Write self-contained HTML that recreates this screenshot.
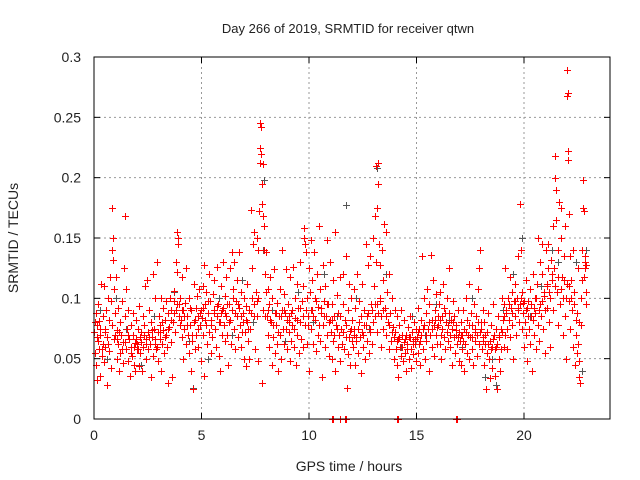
<!DOCTYPE html>
<html><head><meta charset="utf-8"><style>
body{margin:0;background:#fff}
svg{display:block;font-family:"Liberation Sans",sans-serif}
</style></head><body>
<svg id="chart" width="640" height="480">
<rect width="640" height="480" fill="#fff"/>
<text x="348" y="33" text-anchor="middle" font-size="13" fill="#222">Day 266 of 2019, SRMTID for receiver qtwn</text>
<text x="349" y="471" text-anchor="middle" font-size="14" fill="#222">GPS time / hours</text>
<text transform="translate(18,238) rotate(-90)" text-anchor="middle" font-size="14" fill="#222">SRMTID / TECUs</text>
<g id="grid"></g><g id="ticks"></g><g id="gray"></g><g id="red"></g>
<rect x="94" y="57" width="516" height="362" fill="none" stroke="#000" stroke-width="1"/>
</svg>
<script>
const xTicks=[0,5,10,15,20];
const yTicks=[0,0.05,0.1,0.15,0.2,0.25,0.3];
const yTickLabels=["0","0.05","0.1","0.15","0.2","0.25","0.3"];
const redPoints=[[0.02,.072],[0.05,.055],[0.07,.088],[0.1,.045],[0.12,.078],[0.15,.032],[0.18,.065],[0.2,.095],[0.22,.058],[0.25,.081],[0.28,.036],[0.3,.07],[0.33,.112],[0.36,.052],[0.4,.062],[0.42,.085],[0.45,.11],[0.48,.047],[0.5,.075],[0.53,.06],[0.56,.09],[0.6,.028],[0.62,.068],[0.65,.1],[0.7,.056],[0.72,.082],[0.75,.118],[0.78,.042],[0.8,.098],[0.84,.175],[0.86,.14],[0.88,.15],[0.9,.132],[0.92,.108],[0.95,.066],[0.98,.088],
[1.02,.118],[1.05,.074],[1.08,.05],[1.1,.092],[1.13,.062],[1.16,.04],[1.2,.08],[1.23,.055],[1.26,.07],[1.3,.098],[1.33,.046],[1.36,.064],[1.4,.125],[1.43,.085],[1.45,.168],[1.48,.108],[1.5,.058],[1.53,.075],[1.56,.048],[1.6,.09],[1.63,.066],[1.66,.036],[1.7,.078],[1.73,.06],[1.76,.052],[1.8,.088],[1.83,.07],[1.86,.045],[1.9,.063],[1.93,.04],[1.96,.082],[1.98,.058],
[2.02,.062],[2.05,.075],[2.08,.044],[2.1,.094],[2.13,.068],[2.16,.055],[2.2,.072],[2.23,.04],[2.26,.085],[2.3,.06],[2.33,.078],[2.36,.11],[2.4,.066],[2.43,.05],[2.46,.115],[2.5,.072],[2.53,.058],[2.56,.09],[2.6,.062],[2.63,.035],[2.66,.08],[2.7,.068],[2.73,.052],[2.76,.12],[2.8,.075],[2.83,.062],[2.86,.1],[2.9,.058],[2.93,.13],[2.96,.072],[2.98,.048],
[3.02,.085],[3.05,.066],[3.08,.078],[3.1,.04],[3.13,.1],[3.16,.062],[3.2,.092],[3.23,.074],[3.26,.055],[3.3,.082],[3.33,.07],[3.36,.098],[3.4,.06],[3.43,.03],[3.46,.088],[3.5,.076],[3.53,.1],[3.56,.064],[3.6,.09],[3.63,.035],[3.66,.08],[3.7,.098],[3.73,.106],[3.76,.072],[3.8,.13],[3.83,.09],[3.86,.122],[3.88,.155],[3.9,.15],[3.92,.145],[3.95,.095],[3.98,.078],
[4.02,.1],[4.05,.082],[4.08,.068],[4.1,.118],[4.13,.09],[4.16,.05],[4.2,.075],[4.23,.096],[4.26,.125],[4.3,.062],[4.33,.085],[4.36,.07],[4.4,.1],[4.43,.055],[4.46,.078],[4.5,.04],[4.53,.09],[4.56,.065],[4.6,.025],[4.63,.112],[4.66,.08],[4.7,.058],[4.73,.092],[4.76,.07],[4.8,.102],[4.83,.085],[4.86,.06],[4.9,.108],[4.93,.078],[4.96,.048],[4.98,.09],
[5.02,.084],[5.05,.11],[5.08,.07],[5.1,.036],[5.13,.128],[5.16,.095],[5.2,.078],[5.23,.105],[5.26,.062],[5.3,.088],[5.33,.12],[5.36,.072],[5.4,.098],[5.43,.055],[5.46,.082],[5.5,.068],[5.53,.104],[5.56,.09],[5.6,.115],[5.63,.075],[5.66,.06],[5.7,.126],[5.73,.085],[5.76,.095],[5.8,.052],[5.83,.08],[5.86,.04],[5.9,.11],[5.93,.088],[5.96,.07],[5.98,.13],
[6.02,.092],[6.05,.078],[6.08,.065],[6.1,.102],[6.13,.085],[6.16,.118],[6.2,.07],[6.23,.045],[6.26,.095],[6.3,.08],[6.33,.125],[6.36,.062],[6.4,.138],[6.43,.09],[6.46,.108],[6.5,.075],[6.53,.13],[6.56,.058],[6.6,.098],[6.63,.085],[6.66,.115],[6.7,.068],[6.73,.138],[6.76,.092],[6.8,.078],[6.83,.06],[6.86,.105],[6.9,.072],[6.93,.088],[6.96,.05],[6.98,.1],
[7.02,.072],[7.05,.094],[7.08,.044],[7.1,.08],[7.13,.112],[7.16,.065],[7.2,.05],[7.23,.09],[7.26,.075],[7.3,.173],[7.33,.1],[7.36,.125],[7.4,.145],[7.43,.155],[7.46,.085],[7.5,.058],[7.53,.105],[7.56,.15],[7.6,.098],[7.63,.14],[7.65,.048],[7.68,.172],[7.7,.225],[7.72,.245],[7.74,.212],[7.76,.22],[7.78,.242],[7.8,.195],[7.82,.03],[7.83,.178],[7.85,.211],[7.87,.168],[7.9,.14],[7.92,.16],[7.95,.12],[7.98,.105],
[8.02,.138],[8.05,.085],[8.08,.108],[8.1,.07],[8.13,.095],[8.16,.06],[8.2,.118],[8.23,.08],[8.26,.045],[8.3,.1],[8.33,.068],[8.36,.124],[8.4,.088],[8.43,.055],[8.46,.078],[8.5,.062],[8.53,.096],[8.56,.04],[8.6,.085],[8.63,.07],[8.66,.108],[8.7,.05],[8.73,.09],[8.76,.14],[8.8,.075],[8.83,.062],[8.86,.104],[8.9,.088],[8.93,.124],[8.96,.058],[8.98,.082],
[9.02,.095],[9.05,.072],[9.08,.085],[9.1,.048],[9.13,.118],[9.16,.065],[9.2,.09],[9.23,.078],[9.26,.126],[9.3,.06],[9.33,.1],[9.36,.084],[9.4,.045],[9.43,.112],[9.46,.07],[9.5,.092],[9.53,.055],[9.56,.08],[9.6,.13],[9.63,.066],[9.66,.098],[9.7,.06],[9.73,.11],[9.76,.158],[9.78,.15],[9.8,.145],[9.83,.078],[9.86,.138],[9.9,.062],[9.93,.1],[9.96,.085],[9.98,.04],
[10.02,.125],[10.05,.105],[10.08,.075],[10.1,.148],[10.13,.09],[10.16,.115],[10.2,.062],[10.23,.138],[10.26,.1],[10.3,.082],[10.33,.056],[10.36,.12],[10.4,.093],[10.43,.07],[10.46,.16],[10.5,.108],[10.53,.065],[10.56,.088],[10.6,.035],[10.63,.128],[10.66,.078],[10.7,.098],[10.73,.06],[10.76,.11],[10.8,.085],[10.83,.148],[10.86,.07],[10.9,.095],[10.93,.052],[10.96,.13],[10.98,.082],
[11.02,.072],[11.05,.095],[11.08,.05],[11.1,.115],[11.13,.065],[11.16,.085],[11.2,.155],[11.23,.04],[11.26,.078],[11.3,.103],[11.33,.06],[11.36,.088],[11.4,.07],[11.43,.048],[11.46,.118],[11.5,.075],[11.53,.062],[11.56,.095],[11.6,.12],[11.63,.058],[11.66,.082],[11.7,.135],[11.73,.068],[11.76,.026],[11.8,.09],[11.83,.054],[11.86,.112],[11.9,.073],[11.93,.045],[11.96,.1],[11.98,.065],
[12.02,.082],[12.05,.06],[12.08,.108],[12.1,.07],[12.13,.045],[12.16,.092],[12.2,.065],[12.23,.12],[12.26,.075],[12.3,.055],[12.33,.098],[12.36,.068],[12.4,.038],[12.43,.085],[12.46,.112],[12.5,.07],[12.53,.06],[12.56,.09],[12.6,.05],[12.63,.145],[12.66,.078],[12.7,.065],[12.73,.128],[12.76,.088],[12.8,.055],[12.83,.072],[12.86,.135],[12.9,.095],[12.93,.062],[12.96,.15],[12.98,.08],
[13.02,.11],[13.05,.085],[13.08,.168],[13.1,.21],[13.12,.13],[13.14,.095],[13.16,.175],[13.18,.072],[13.2,.195],[13.22,.212],[13.25,.145],[13.28,.1],[13.3,.128],[13.33,.085],[13.36,.06],[13.4,.14],[13.43,.115],[13.46,.075],[13.5,.162],[13.53,.092],[13.56,.07],[13.6,.155],[13.63,.105],[13.66,.08],[13.7,.058],[13.73,.12],[13.76,.088],[13.8,.065],[13.85,.1],[13.9,.076],[13.95,.05],[13.98,.09],
[14.02,.072],[14.05,.058],[14.08,.085],[14.1,.045],[14.13,.066],[14.16,.035],[14.2,.078],[14.23,.06],[14.26,.052],[14.3,.09],[14.33,.07],[14.36,.048],[14.4,.064],[14.43,.082],[14.46,.055],[14.5,.07],[14.53,.04],[14.56,.062],[14.6,.076],[14.63,.05],[14.66,.068],[14.7,.085],[14.73,.058],[14.76,.042],[14.8,.072],[14.83,.065],[14.86,.054],[14.9,.08],[14.93,.062],[14.96,.048],[14.98,.075],
[15.02,.068],[15.05,.092],[15.08,.055],[15.1,.075],[15.13,.062],[15.16,.045],[15.2,.082],[15.23,.07],[15.26,.135],[15.3,.058],[15.33,.1],[15.36,.078],[15.4,.05],[15.43,.088],[15.46,.065],[15.5,.108],[15.53,.075],[15.56,.04],[15.6,.095],[15.63,.07],[15.66,.136],[15.7,.082],[15.73,.06],[15.76,.115],[15.8,.078],[15.83,.052],[15.86,.09],[15.9,.07],[15.93,.104],[15.96,.062],[15.98,.085],
[16.02,.078],[16.05,.095],[16.08,.062],[16.1,.105],[16.13,.07],[16.16,.05],[16.2,.085],[16.23,.112],[16.26,.068],[16.3,.092],[16.33,.058],[16.36,.08],[16.4,.1],[16.43,.072],[16.46,.065],[16.5,.088],[16.53,.125],[16.56,.06],[16.6,.082],[16.63,.075],[16.66,.045],[16.7,.098],[16.73,.068],[16.76,.085],[16.8,.055],[16.83,.078],[16.86,.07],[16.9,.062],[16.93,.09],[16.96,.048],[16.98,.072],
[17.02,.065],[17.05,.08],[17.08,.045],[17.1,.07],[17.13,.058],[17.16,.09],[17.2,.04],[17.23,.075],[17.26,.062],[17.3,.1],[17.33,.055],[17.36,.082],[17.4,.07],[17.43,.112],[17.46,.05],[17.5,.068],[17.53,.088],[17.56,.058],[17.6,.078],[17.63,.045],[17.66,.095],[17.7,.065],[17.73,.072],[17.76,.085],[17.8,.052],[17.83,.07],[17.86,.108],[17.9,.062],[17.93,.125],[17.96,.14],[17.98,.08],
[18.02,.075],[18.05,.058],[18.08,.09],[18.1,.068],[18.13,.045],[18.16,.08],[18.2,.062],[18.23,.025],[18.26,.072],[18.3,.055],[18.33,.088],[18.36,.05],[18.4,.034],[18.43,.065],[18.46,.078],[18.5,.042],[18.53,.06],[18.56,.095],[18.6,.07],[18.63,.036],[18.66,.058],[18.7,.075],[18.73,.025],[18.76,.062],[18.8,.085],[18.83,.05],[18.86,.068],[18.9,.04],[18.93,.058],[18.96,.1],[18.98,.072],
[19.02,.082],[19.05,.06],[19.08,.095],[19.1,.07],[19.13,.125],[19.16,.088],[19.2,.075],[19.23,.058],[19.26,.1],[19.3,.082],[19.33,.118],[19.36,.068],[19.4,.092],[19.43,.105],[19.46,.078],[19.5,.05],[19.53,.098],[19.56,.085],[19.6,.112],[19.63,.07],[19.66,.1],[19.7,.09],[19.73,.135],[19.76,.08],[19.8,.178],[19.83,.095],[19.86,.14],[19.9,.075],[19.93,.105],[19.96,.088],[19.98,.06],
[20.02,.098],[20.05,.08],[20.08,.115],[20.1,.07],[20.13,.048],[20.16,.092],[20.2,.085],[20.23,.075],[20.26,.108],[20.3,.062],[20.33,.095],[20.36,.04],[20.4,.082],[20.43,.12],[20.46,.07],[20.5,.1],[20.53,.088],[20.56,.058],[20.6,.112],[20.63,.078],[20.66,.15],[20.7,.065],[20.73,.095],[20.76,.13],[20.8,.085],[20.83,.12],[20.86,.145],[20.9,.075],[20.93,.102],[20.96,.09],[20.98,.055],
[21.02,.14],[21.05,.11],[21.08,.092],[21.1,.125],[21.13,.145],[21.16,.08],[21.2,.1],[21.23,.06],[21.26,.132],[21.3,.115],[21.33,.16],[21.36,.09],[21.4,.125],[21.43,.2],[21.45,.218],[21.47,.19],[21.5,.165],[21.53,.105],[21.56,.078],[21.6,.14],[21.63,.18],[21.66,.095],[21.7,.175],[21.73,.15],[21.76,.118],[21.8,.07],[21.83,.1],[21.86,.135],[21.9,.085],[21.93,.16],[21.96,.05],[21.98,.112],
[22.0,.289],[22.02,.268],[22.03,.27],[22.04,.222],[22.05,.215],[22.08,.17],[22.1,.098],[22.13,.135],[22.16,.075],[22.2,.115],[22.23,.09],[22.26,.14],[22.3,.06],[22.33,.105],[22.36,.045],[22.4,.082],[22.43,.07],[22.46,.055],[22.5,.125],[22.53,.062],[22.56,.035],[22.58,.048],[22.6,.03],[22.63,.1],[22.66,.078],[22.7,.14],[22.73,.175],[22.75,.198],[22.77,.172],[22.8,.118],[22.83,.13],[22.86,.135],[22.88,.105],[22.9,.095],
[11.08,0],[11.1,0],[11.42,0],[11.45,0],[11.68,0],[11.7,0],[14.1,0],[14.15,0],[16.85,0],[16.9,0]];
const redPointsExtra=[[0.04,.08],[0.14,.068],[0.27,.075],[0.38,.058],[0.52,.072],[0.66,.062],[0.83,.078],[0.97,.07],
[1.06,.066],[1.18,.072],[1.32,.058],[1.46,.064],[1.58,.07],[1.72,.055],[1.85,.06],[1.95,.066],
[2.06,.058],[2.18,.064],[2.32,.07],[2.44,.062],[2.58,.068],[2.72,.074],[2.85,.066],[2.95,.06],
[3.07,.072],[3.18,.08],[3.31,.068],[3.44,.075],[3.58,.082],[3.72,.088],[3.85,.095],[3.97,.085],
[4.07,.09],[4.18,.085],[4.31,.078],[4.45,.092],[4.58,.07],[4.72,.082],[4.85,.075],[4.95,.088],
[5.07,.092],[5.18,.082],[5.32,.098],[5.45,.078],[5.58,.088],[5.72,.094],[5.85,.08],[5.95,.09],
[6.07,.088],[6.18,.095],[6.32,.082],[6.45,.1],[6.58,.088],[6.72,.095],[6.85,.085],[6.95,.08],
[7.07,.082],[7.18,.075],[7.32,.088],[7.45,.095],[7.58,.085],[7.62,.1],[7.88,.09],[7.96,.085],
[8.07,.09],[8.18,.082],[8.32,.078],[8.45,.088],[8.58,.072],[8.72,.085],[8.85,.09],[8.95,.075],
[9.07,.08],[9.18,.088],[9.32,.075],[9.45,.082],[9.58,.092],[9.72,.085],[9.85,.09],[9.95,.078],
[10.07,.09],[10.18,.085],[10.32,.098],[10.45,.078],[10.58,.092],[10.72,.085],[10.85,.095],[10.95,.08],
[11.07,.082],[11.18,.07],[11.32,.075],[11.45,.085],[11.58,.072],[11.72,.078],[11.85,.068],[11.95,.075],
[12.07,.075],[12.18,.068],[12.32,.08],[12.45,.072],[12.58,.078],[12.72,.085],[12.85,.075],[12.95,.09],
[13.07,.095],[13.19,.088],[13.32,.098],[13.45,.09],[13.58,.085],[13.72,.078],[13.84,.072],[13.94,.068],
[14.07,.065],[14.18,.068],[14.32,.06],[14.45,.066],[14.58,.058],[14.72,.068],[14.85,.062],[14.95,.066],
[15.07,.072],[15.18,.065],[15.32,.075],[15.45,.07],[15.58,.08],[15.72,.075],[15.85,.082],[15.95,.076],
[16.07,.082],[16.18,.075],[16.32,.088],[16.45,.078],[16.58,.07],[16.72,.08],[16.85,.074],[16.95,.068],
[17.07,.07],[17.18,.065],[17.32,.072],[17.45,.078],[17.58,.068],[17.72,.075],[17.85,.08],[17.95,.072],
[18.07,.065],[18.18,.07],[18.32,.062],[18.45,.058],[18.58,.066],[18.72,.06],[18.85,.07],[18.95,.075],
[19.07,.085],[19.18,.09],[19.32,.095],[19.45,.088],[19.58,.098],[19.72,.092],[19.85,.1],[19.95,.096],
[20.07,.09],[20.18,.098],[20.32,.085],[20.45,.092],[20.58,.1],[20.72,.09],[20.85,.098],[20.95,.105],
[21.07,.112],[21.18,.105],[21.32,.12],[21.44,.11],[21.58,.118],[21.72,.108],[21.85,.115],[21.95,.1],
[22.07,.11],[22.18,.1],[22.32,.095],[22.45,.088],[22.55,.08],[22.68,.115],[22.82,.125],[22.89,.128]];
const grayPoints=[[0.3,.09],[0.6,.05],[1.0,.1],[1.5,.075],[2.2,.045],[2.8,.085],[3.4,.06],[3.7,.105],[4.4,.065],[4.6,.026],[5.3,.05],[5.8,.1],[6.4,.07],[6.9,.115],[7.4,.08],[7.9,.198],[7.85,.14],[8.3,.09],[8.9,.065],[9.5,.105],[10.2,.08],[10.7,.12],[11.3,.085],[11.7,.177],[12.2,.1],[12.8,.075],[13.15,.208],[13.6,.12],[14.3,.06],[14.8,.085],[15.4,.07],[15.9,.095],[16.5,.082],[17.1,.06],[17.6,.1],[18.2,.035],[18.5,.05],[18.7,.028],[19.0,.09],[19.5,.12],[19.9,.15],[20.3,.085],[20.8,.11],[21.3,.14],[21.6,.13],[22.05,.222],[22.4,.13],[22.7,.04],[22.9,.14]];

const NS="http://www.w3.org/2000/svg";
const L=94,R=610,T=57,B=419,XMAX=24,YMAX=0.3;
const sx=v=>L+(R-L)*v/XMAX;
const sy=v=>B-(B-T)*v/YMAX;
function mk(tag,attrs,parent){const e=document.createElementNS(NS,tag);for(const k in attrs)e.setAttribute(k,attrs[k]);parent.appendChild(e);return e;}
const grid=document.getElementById('grid'),ticks=document.getElementById('ticks');
xTicks.forEach(t=>{
  const x=sx(t);
  if(t>0){const g=mk('line',{x1:x,x2:x,y1:T,y2:B,stroke:'#999','stroke-dasharray':'2,3'},grid);
  
  }
  mk('line',{x1:x,x2:x,y1:B,y2:B-6,stroke:'#000'},ticks);
  mk('line',{x1:x,x2:x,y1:T,y2:T+6,stroke:'#000'},ticks);
  const lb=mk('text',{x:x,y:B+21,'text-anchor':'middle','font-size':'14',fill:'#222'},ticks);
  lb.textContent=t;
  
  
});
yTicks.forEach((t,i)=>{
  const y=sy(t);
  if(i>0&&i<yTicks.length-1){const g=mk('line',{x1:L,x2:R,y1:y,y2:y,stroke:'#999','stroke-dasharray':'2,3'},grid);
  
  }
  mk('line',{x1:L,x2:L+6,y1:y,y2:y,stroke:'#000'},ticks);
  mk('line',{x1:R,x2:R-6,y1:y,y2:y,stroke:'#000'},ticks);
  const lb=mk('text',{x:L-13,y:y+5,'text-anchor':'end','font-size':'14',fill:'#222'},ticks);
  lb.textContent=yTickLabels[i];
  
  
});
function plot(pts,g,col,name){
  let d='';
  pts.forEach(p=>{const x=Math.round(sx(p[0]))+0.5,y=Math.round(sy(p[1]))+0.5;d+=`M${x-3.5} ${y}h7M${x} ${y-3.5}v7`;});
  const path=mk('path',{d:d,stroke:col,'stroke-width':1,fill:'none'},g);
  
  
}
plot(grayPoints,document.getElementById('gray'),'#555','gray-series-points');
plot(redPoints,document.getElementById('red'),'#f00','red-series-points');
plot(redPointsExtra,document.getElementById('red'),'#f00','red-series-points-extra');
</script>
</body></html>
